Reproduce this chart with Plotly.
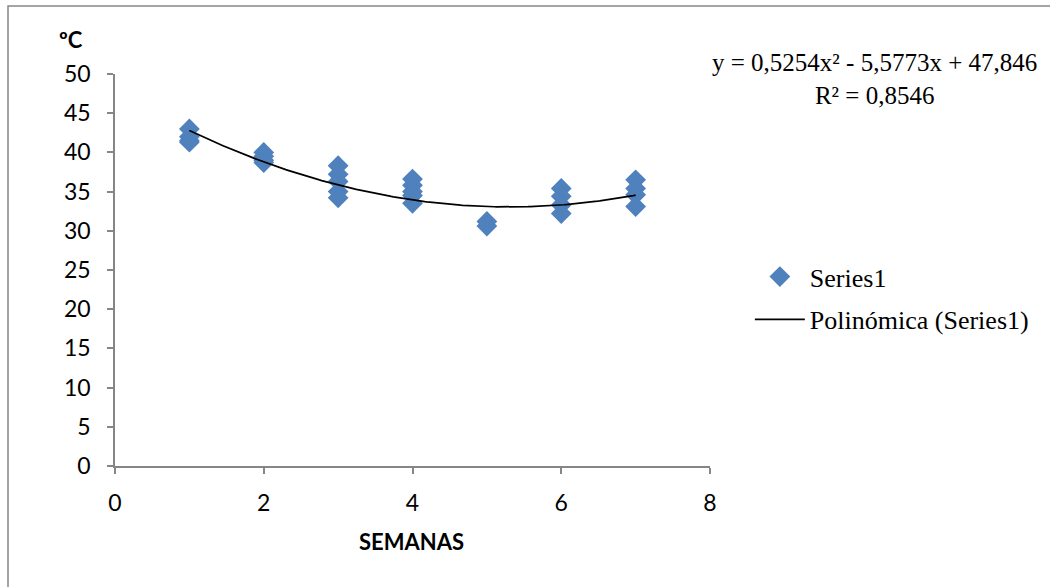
import numpy as np
import plotly.graph_objects as go

# Data
semanas = [1, 1, 1, 1,
           2, 2, 2, 2,
           3, 3, 3, 3, 3,
           4, 4, 4, 4, 4,
           5, 5,
           6, 6, 6, 6,
           7, 7, 7, 7]
temperatura = [43.0, 42.0, 41.5, 41.3,
               40.0, 39.5, 39.0, 38.7,
               38.3, 37.2, 36.3, 35.0, 34.2,
               36.6, 35.8, 35.0, 34.5, 33.5,
               31.2, 30.6,
               35.4, 34.4, 33.3, 32.2,
               36.5, 35.4, 34.6, 33.1]

# Trendline coefficients (as displayed on the chart)
coef_a, coef_b, coef_c = 0.5254, -5.5773, 47.846
eq_text = "y = 0,5254x² - 5,5773x + 47,846"
r2_text = "R² = 0,8546"

x_ticks = [0, 2, 4, 6, 8]
y_ticks = [0, 5, 10, 15, 20, 25, 30, 35, 40, 45, 50]

xs = np.linspace(min(semanas), max(semanas), 200)
ys = coef_a * xs**2 + coef_b * xs + coef_c

SANS = "Lato, Carlito, sans-serif"
SERIF = "Liberation Serif, Times New Roman, serif"

fig = go.Figure()
fig.add_trace(go.Scatter(
    x=semanas, y=temperatura, mode="markers", name="Series1",
    legendgroup="a",
    marker=dict(symbol="diamond", size=16, color="#4F81BD",
                line=dict(width=0)),
))
fig.add_trace(go.Scatter(
    x=xs, y=ys, mode="lines", name="Polinómica (Series1)",
    legendgroup="b",
    line=dict(color="black", width=1.75),
))

axis_common = dict(showgrid=False, zeroline=False, showline=True,
                   linecolor="#868686", linewidth=1.5,
                   ticks="outside", ticklen=6, tickcolor="#868686",
                   tickwidth=1.5,
                   tickfont=dict(family=SANS, size=23, color="black"))

fig.update_xaxes(range=[0, 8], tickvals=x_ticks, ticklabelstandoff=10,
                 **axis_common)
fig.update_yaxes(range=[0, 50], tickvals=y_ticks, ticklabelstandoff=12,
                 **axis_common)

fig.update_layout(
    width=1050, height=587,
    margin=dict(l=115, r=340, t=74, b=121),
    paper_bgcolor="white", plot_bgcolor="white",
    showlegend=True,
    legend=dict(x=1.067, y=0.543, xanchor="left", yanchor="top",
                font=dict(family=SERIF, size=26, color="black"),
                tracegroupgap=6, itemwidth=50,
                bgcolor="rgba(0,0,0,0)"),
    shapes=[dict(type="rect", xref="paper", yref="paper",
                 x0=-107/595, x1=938/595, y0=-130/392, y1=(466-6)/392,
                 line=dict(color="#868686", width=1.5),
                 fillcolor="rgba(0,0,0,0)", layer="below")],
    annotations=[
        dict(text="<b>ºC</b>", xref="paper", yref="paper",
             x=(71-115)/595, y=(466-40)/392, showarrow=False,
             xanchor="center", yanchor="middle",
             font=dict(family=SANS, size=22, color="black")),
        dict(text="<b>SEMANAS</b>", xref="paper", yref="paper",
             x=(411-115)/595, y=(466-541)/392, showarrow=False,
             xanchor="center", yanchor="middle",
             font=dict(family=SANS, size=22, color="black")),
        dict(text=eq_text + "<br>" + r2_text, xref="paper", yref="paper",
             x=(875-115)/595, y=(466-79)/392, showarrow=False,
             xanchor="center", yanchor="middle", align="center",
             font=dict(family=SERIF, size=25, color="black")),
    ],
)

fig.write_html("out.html")
